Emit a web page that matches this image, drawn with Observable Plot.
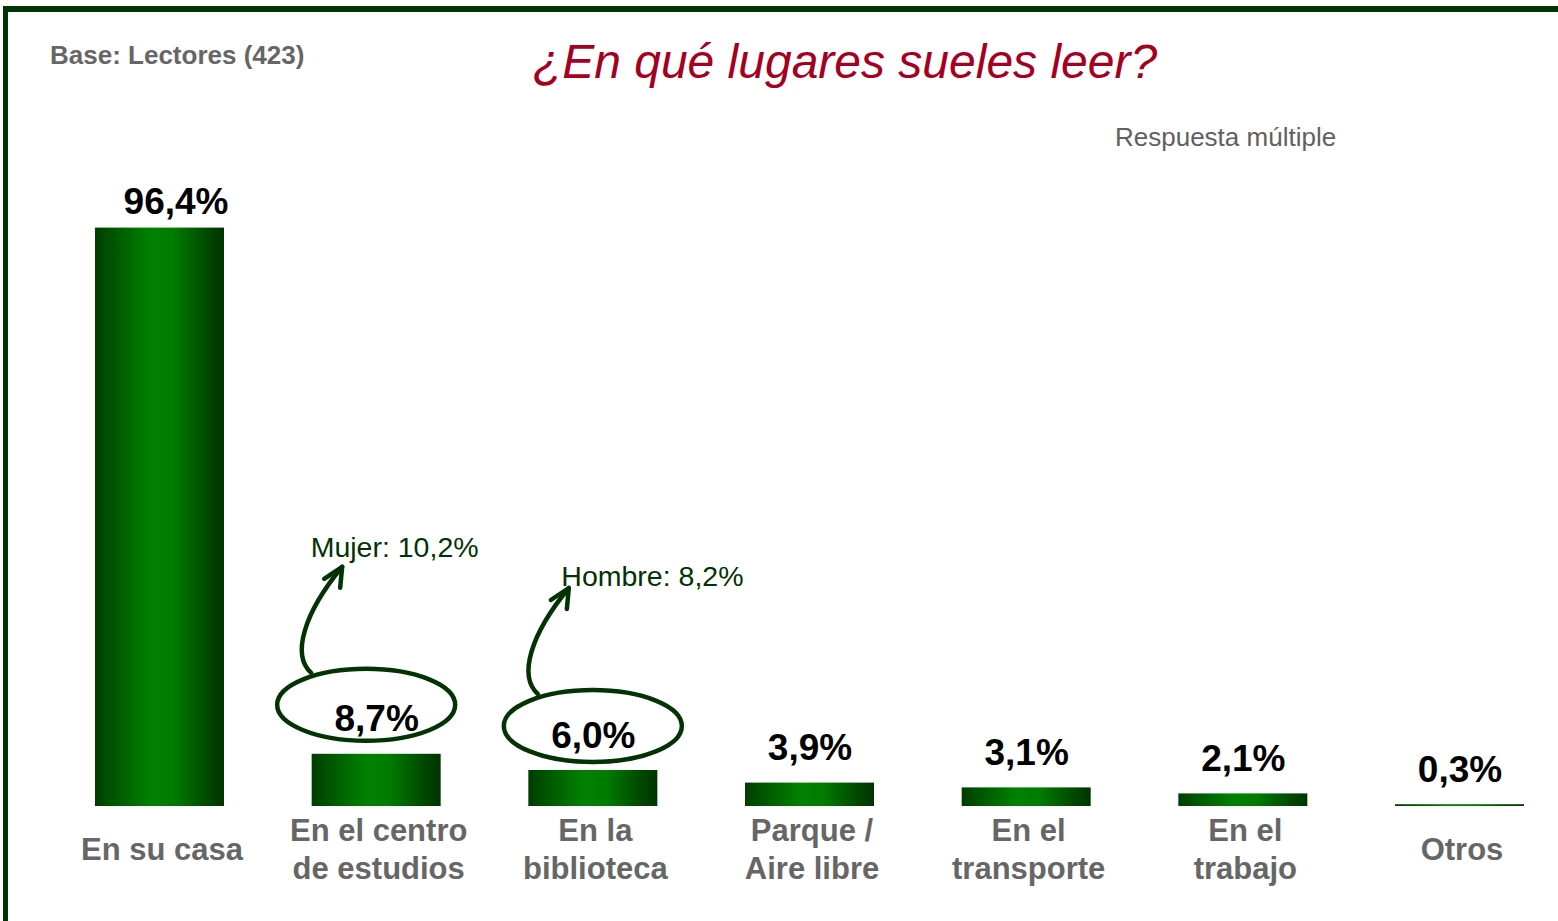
<!DOCTYPE html>
<html>
<head>
<meta charset="utf-8">
<script src="https://cdn.jsdelivr.net/npm/d3@7"></script>
<script src="https://cdn.jsdelivr.net/npm/@observablehq/plot@0.6"></script>
<style>
  body { margin: 0; background: #fff; }
  #wrap { position: relative; width: 1558px; height: 921px; overflow: hidden; font-family: "Liberation Sans", Arial, sans-serif; background: #fff; }
  .bt { position: absolute; left: 3px; top: 6px; width: 1555px; height: 6px; background: #033303; }
  .bl { position: absolute; left: 3px; top: 6px; width: 5px; height: 915px; background: #033303; }
  #base { position: absolute; left: 50px; top: 42px; font-weight: bold; font-size: 26px; line-height: 1; color: #666; white-space: nowrap; }
  #title { position: absolute; left: 845px; top: 38px; transform: translateX(-50%); font-style: italic; font-size: 48px; line-height: 1; color: #a50021; white-space: nowrap; }
  #sub { position: absolute; left: 1115px; top: 124px; font-size: 26px; line-height: 1; color: #606060; white-space: nowrap; }
  #chart { position: absolute; left: 0; top: 0; }
</style>
</head>
<body>
<div id="wrap">
  <div id="chart"></div>
  <div class="bt"></div>
  <div class="bl"></div>
  <div id="base">Base: Lectores (423)</div>
  <div id="title">¿En qué lugares sueles leer?</div>
  <div id="sub">Respuesta múltiple</div>
</div>
<script>
const categories = ["En su casa", "En el centro de estudios", "En la biblioteca", "Parque / Aire libre", "En el transporte", "En el trabajo", "Otros"];
const tickLabels = ["En su casa", "En el centro\nde estudios", "En la\nbiblioteca", "Parque /\nAire libre", "En el\ntransporte", "En el\ntrabajo", "Otros"];
const values = [96.4, 8.7, 6.0, 3.9, 3.1, 2.1, 0.3];
const valueLabels = ["96,4%", "8,7%", "6,0%", "3,9%", "3,1%", "2,1%", "0,3%"];
const noteCategories = ["En el centro de estudios", "En la biblioteca"];
const noteTexts = ["Mujer: 10,2%", "Hombre: 8,2%"];

const rows = categories.map((c, i) => ({cat: c, value: values[i], label: valueLabels[i], tick: tickLabels[i]}));
const notes = noteCategories.map((c, i) => ({cat: c, value: values[categories.indexOf(c)], text: noteTexts[i]}));

const DARK = "#033303";
// pixel offsets of each callout (ellipse centre relative to bar top centre; note text relative to same)
const calloutOffsets = [{ex: -10, ey: -49, tx: -66, ty: -197}, {ex: 0, ey: -44, tx: -32, ty: -185}];

const defsMark = () => {
  const g = d3.create("svg:g");
  const grad = g.append("defs").append("linearGradient")
    .attr("id", "barGrad").attr("x1", 0).attr("x2", 1).attr("y1", 0).attr("y2", 0);
  [[0, "#003c00"], [0.12, "#005200"], [0.42, "#008000"], [0.6, "#007c00"], [0.85, "#004c00"], [1, "#003300"]]
    .forEach(([o, c]) => grad.append("stop").attr("offset", o).attr("stop-color", c));
  return g.node();
};

const annotMark = (index, scales) => {
  const x = scales.x, y = scales.y;
  const bw = typeof x.bandwidth === "function" ? x.bandwidth() : 0;
  const g = d3.create("svg:g").attr("fill", "none").attr("stroke", DARK).attr("stroke-width", 4.5)
    .attr("stroke-linecap", "round").attr("stroke-linejoin", "round");
  notes.forEach((n, i) => {
    const o = calloutOffsets[i];
    const cx = x(n.cat) + bw / 2 + o.ex;
    const cy = y(n.value) + o.ey;
    g.append("ellipse").attr("cx", cx).attr("cy", cy).attr("rx", 89).attr("ry", 36);
    const tx = cx - 24, ty = cy - 138;
    g.append("path").attr("d",
      `M${cx - 55},${cy - 32} C${cx - 75},${cy - 50} ${cx - 62},${cy - 92} ${tx},${ty}`);
    g.append("path").attr("d", `M${tx - 18},${ty + 12} L${tx},${ty} L${tx - 2},${ty + 21}`);
  });
  return g.node();
};

const chart = Plot.plot({
  width: 1558,
  height: 921,
  marginTop: 206,
  marginBottom: 115,
  marginLeft: 95,
  marginRight: 34,
  style: {fontFamily: "'Liberation Sans', Arial, sans-serif", background: "transparent", overflow: "visible"},
  x: {domain: categories, paddingInner: 0.4046, paddingOuter: 0, round: false, axis: null},
  y: {domain: [0, 100], axis: null},
  marks: [
    defsMark,
    Plot.barY(rows, {x: "cat", y: "value", fill: "url(#barGrad)"}),
    Plot.text(rows.slice(0, 1), {x: "cat", y: "value", text: "label", lineAnchor: "bottom", dy: -14, dx: 16,
      fontSize: 37, fontWeight: "bold", fill: "#000"}),
    Plot.text(rows.slice(1), {x: "cat", y: "value", text: "label", lineAnchor: "bottom", dy: -23,
      fontSize: 37, fontWeight: "bold", fill: "#000"}),
    Plot.text(rows, {x: "cat", frameAnchor: "bottom", text: "tick", dy: 41, dx: 2, lineAnchor: "middle", lineHeight: 1.23,
      fontSize: 31, fontWeight: "bold", fill: "#666"}),
    annotMark,
    Plot.text(notes.slice(0, 1), {x: "cat", y: "value", text: "text", textAnchor: "start", lineAnchor: "bottom",
      dx: calloutOffsets[0].tx, dy: calloutOffsets[0].ty, fontSize: 28.5, fill: DARK}),
    Plot.text(notes.slice(1), {x: "cat", y: "value", text: "text", textAnchor: "start", lineAnchor: "bottom",
      dx: calloutOffsets[1].tx, dy: calloutOffsets[1].ty, fontSize: 28.5, fill: DARK})
  ]
});
document.getElementById("chart").appendChild(chart);
</script>
</body>
</html>
